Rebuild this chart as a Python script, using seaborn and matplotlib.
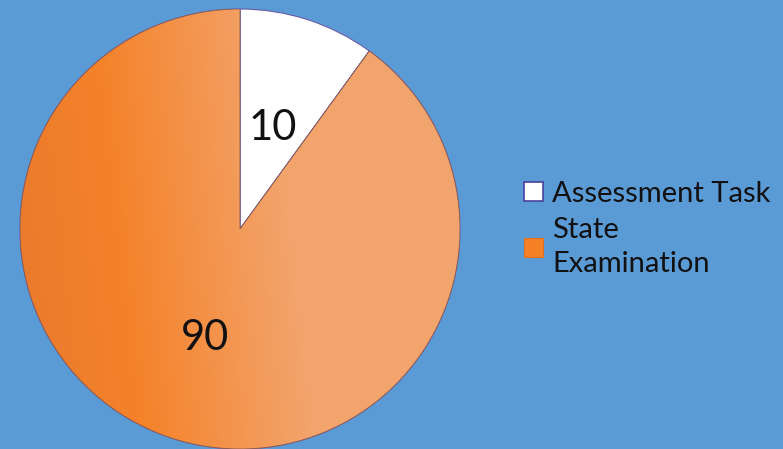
import numpy as np
import matplotlib
matplotlib.use("Agg")
import matplotlib.pyplot as plt
from matplotlib.colors import LinearSegmentedColormap
from matplotlib.patches import Patch, Wedge
import seaborn as sns

categories = ["Assessment Task", "State Examination"]
legend_labels = ["Assessment Task", "State\nExamination"]
values = [10, 90]

sns.set_theme(style="white")
plt.rcParams['font.family'] = ['Lato', 'DejaVu Sans']

BG = "#5B9BD5"
fig = plt.figure(figsize=(7.83, 4.49), dpi=100, facecolor=BG)
ax = fig.add_axes([20/783, 0/449, 440/783, 440/449])
ax.set_facecolor(BG)

wedges, _ = ax.pie(values, startangle=90, counterclock=False,
                   colors=["white", "#F2A46C"],
                   wedgeprops=dict(edgecolor="#6A5AA8", linewidth=0.8))
ax.set_xlim(-1, 1)
ax.set_ylim(-1, 1)
ax.set_aspect("auto")
ax.axis("off")

# gradient fill for orange slice (diagonal, darker at left)
cmap = LinearSegmentedColormap.from_list("g", [(0.0, "#E97A2D"), (0.25, "#F5822A"),
                                               (0.6, "#F2A46C"), (1.0, "#F2A56E")])
xx, yy = np.meshgrid(np.linspace(0, 1, 300), np.linspace(0, 1, 300))
grad = np.clip(xx * 0.9 + (1 - yy) * 0.1, 0, 1)
im = ax.imshow(grad, extent=[-1, 1, -1, 1], cmap=cmap, aspect="auto", zorder=1.5)
im.set_clip_path(wedges[1])
wedges[1].set_zorder(1)
ax.add_patch(Wedge((0, 0), 1, -270, 54, fill=False,
                   edgecolor="#8A5A50", linewidth=0.6, zorder=2))

# value labels
ax.text((273-240)/220, (229-128)/220, str(values[0]), fontsize=30, ha="center", va="center", color="#111111", zorder=3)
ax.text((205-240)/220, (229-338)/220, str(values[1]), fontsize=30, ha="center", va="center", color="#111111", zorder=3)

handles = [Patch(facecolor="white", edgecolor="#4B3FA0", linewidth=1.2),
           Patch(facecolor="#F58025", edgecolor="#E07020", linewidth=0.8)]
leg = fig.legend(handles, legend_labels, loc="center left",
                 bbox_to_anchor=(498/783, 1-229/449), frameon=False,
                 fontsize=21, handlelength=0.65, handleheight=0.6,
                 handletextpad=0.3, labelspacing=0.35, labelcolor="#111111")
for t in leg.get_texts():
    t.set_linespacing(1.4)

fig.savefig("out.png", dpi=100, facecolor=BG)
